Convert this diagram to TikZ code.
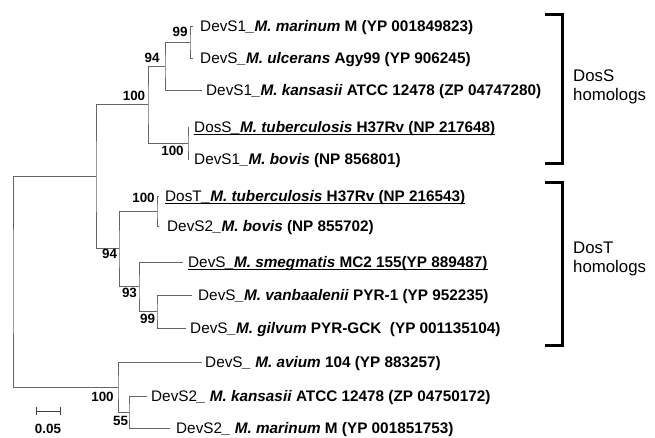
\documentclass[tikz,border=0pt]{standalone}
\usepackage{fontspec}
\setmainfont{Liberation Sans}
\newsavebox\ulsave
\newcommand\ulined[1]{\sbox\ulsave{#1}\rlap{\rule[-2.5pt]{\wd\ulsave}{1pt}}\usebox\ulsave}
\newcommand\taxon[3]{#1\textbf{\textit{#2}}\textbf{#3}}
\begin{document}
\begin{tikzpicture}[x=1pt,y=-1pt,
  tree/.style={draw=black!60,line width=1pt},
  lf/.style={anchor=west,inner sep=0pt,text height=11pt,text depth=0pt,font=\fontsize{15.3}{18}\selectfont},
  bs/.style={inner sep=0pt,text height=9.6pt,text depth=0pt,font=\fontsize{13.4}{15}\selectfont\bfseries},
  brk/.style={draw=black,line width=3pt,line join=miter},
  grp/.style={anchor=west,inner sep=0pt,align=left,font=\fontsize{16.8}{19}\selectfont}]
\useasboundingbox (0,0) rectangle (655,437);
% internal nodes
\coordinate (root) at (13,281.5);
\coordinate (nup) at (96,176.7);
\coordinate (n100a) at (148,104.5);
\coordinate (n94a) at (165,66);
\coordinate (n99a) at (190,42);
\coordinate (n100b) at (188,143);
\coordinate (n94b) at (119,248.9);
\coordinate (n100c) at (157,211);
\coordinate (n93) at (139,286.75);
\coordinate (n99b) at (157,311.5);
\coordinate (n100d) at (118,387);
\coordinate (n55) at (129,412);
% leaf ends
\coordinate (e1) at (193,26);
\coordinate (e2) at (193,58);
\coordinate (e3) at (202,90);
\coordinate (e4) at (189,127);
\coordinate (e5) at (189,159);
\coordinate (e6) at (159,196);
\coordinate (e7) at (159,226);
\coordinate (e8) at (183,262);
\coordinate (e9) at (192,295);
\coordinate (e10) at (186,328);
\coordinate (e11) at (202,362);
\coordinate (e12) at (147,396);
\coordinate (e13) at (170,428);
% branches
\draw[tree] (e1) -| (n99a) |- (e2);
\draw[tree] (n99a) -| (n94a) |- (e3);
\draw[tree] (n94a) -| (n100a) |- (n100b);
\draw[tree] (e4) -| (n100b) |- (e5);
\draw[tree] (n100a) -| (nup) |- (n94b);
\draw[tree] (e6) -| (n100c) |- (e7);
\draw[tree] (n100c) -| (n94b) |- (n93);
\draw[tree] (e8) -| (n93) |- (n99b);
\draw[tree] (e9) -| (n99b) |- (e10);
\draw[tree] (nup) -| (root) |- (n100d);
\draw[tree] (e11) -| (n100d) |- (n55);
\draw[tree] (e12) -| (n55) |- (e13);
% leaf labels
\node[lf] (t1) at (200,26) {\taxon{DevS1}{\_M. marinum}{ M (YP 001849823)}};
\node[lf] (t2) at (200,58) {\taxon{DevS}{\_M. ulcerans}{ Agy99 (YP 906245)}};
\node[lf] (t3) at (206,90) {\taxon{DevS1}{\_M. kansasii}{ ATCC 12478 (ZP 04747280)}};
\node[lf] (t4) at (194,127) {\ulined{\taxon{DosS}{\_M. tuberculosis}{ H37Rv (NP 217648)}}};
\node[lf] (t5) at (194,159) {\taxon{DevS1}{\_M. bovis}{ (NP 856801)}};
\node[lf] (t6) at (165,196) {\ulined{\taxon{DosT}{\_M. tuberculosis}{ H37Rv (NP 216543)}}};
\node[lf] (t7) at (167,226) {\taxon{DevS2}{\_M. bovis}{ (NP 855702)}};
\node[lf] (t8) at (188,262) {\ulined{\taxon{DevS}{\_M. smegmatis}{ MC2 155(YP 889487)}}};
\node[lf] (t9) at (198,295) {\taxon{DevS}{\_M. vanbaalenii}{ PYR-1 (YP 952235)}};
\node[lf] (t10) at (190,328) {\taxon{DevS}{\_M. gilvum}{ PYR-GCK\ \ (YP 001135104)}};
\node[lf] (t11) at (205,362) {\taxon{DevS}{\_ M. avium}{ 104 (YP 883257)}};
\node[lf] (t12) at (151,396) {\taxon{DevS2}{\_ M. kansasii}{ ATCC 12478 (ZP 04750172)}};
\node[lf] (t13) at (176,428) {\taxon{DevS2}{\_ M. marinum}{ M (YP 001851753)}};
% bootstrap values
\node[bs] (b1) at (180,32) {99};
\node[bs] (b2) at (152,57.5) {94};
\node[bs] (b3) at (134,96) {100};
\node[bs] (b4) at (172.5,151) {100};
\node[bs] (b5) at (143.5,198) {100};
\node[bs] (b6) at (109.5,254) {94};
\node[bs] (b7) at (129.5,292.5) {93};
\node[bs] (b8) at (147.5,319) {99};
\node[bs] (b9) at (102.5,397) {100};
\node[bs] (b10) at (120.5,420.5) {55};
% scale bar
\coordinate (s1) at (36,411);
\coordinate (s2) at (60,411);
\draw[tree,draw=black!75] (s1) -- (s2);
\draw[tree,draw=black!75] ([yshift=-4pt]s1) -- ([yshift=4pt]s1);
\draw[tree,draw=black!75] ([yshift=-4pt]s2) -- ([yshift=4pt]s2);
\node[bs] (sl) at (48,429) {0.05};
% brackets
\coordinate (k1t) at (545,14);
\coordinate (k1b) at (545,163);
\coordinate (k1c) at (562,14);
\draw[brk] (k1t) -- (k1c) |- (k1b);
\coordinate (k2t) at (545,182);
\coordinate (k2b) at (545,345);
\coordinate (k2c) at (562,182);
\draw[brk] (k2t) -- (k2c) |- (k2b);
\node[grp] (g1) at (573,87) {DosS\\homologs};
\node[grp] (g2) at (573,259) {DosT\\homologs};
\end{tikzpicture}
\end{document}
